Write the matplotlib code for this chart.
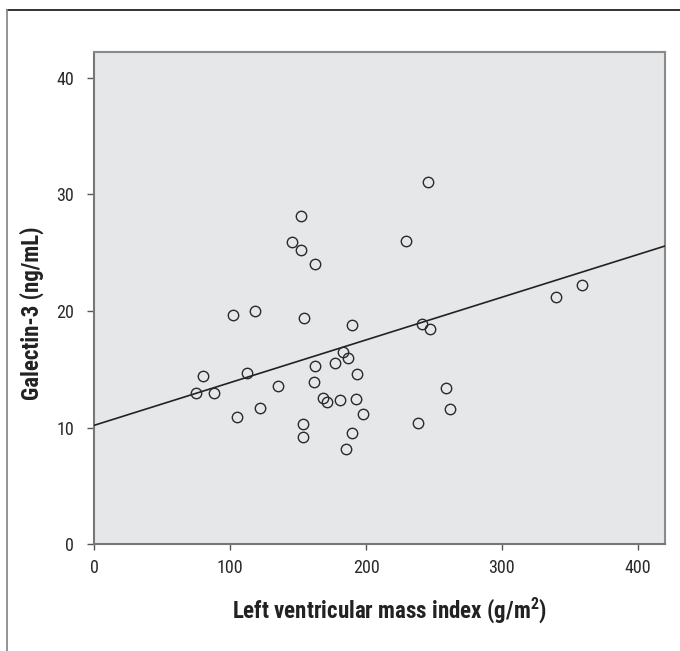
import matplotlib
matplotlib.use('Agg')
import matplotlib.pyplot as plt
import numpy as np
from matplotlib.lines import Line2D

plt.rcParams['font.family'] = ['Roboto Condensed', 'DejaVu Sans']

# left ventricular mass index (g/m2) vs galectin-3 (ng/mL)
lvmi = [74.8, 80.2, 88.2, 102.5, 118.4, 104.9, 112.3, 121.8, 135.1, 145.6,
        152.2, 152.2, 162.5, 154.4, 154.0, 153.7, 162.5, 162.0, 168.7, 171.6,
        189.7, 183.1, 187.1, 177.0, 193.2, 181.2, 192.6, 197.8, 189.7, 185.1,
        245.6, 229.7, 339.5, 358.6, 241.2, 246.8, 258.6, 262.1, 238.0]
galectin = [12.93, 14.47, 12.93, 19.66, 19.97, 10.88, 14.67, 11.71, 13.53, 25.95,
            28.17, 25.24, 24.04, 19.37, 10.28, 9.17, 15.32, 13.93, 12.50, 12.22,
            18.77, 16.50, 15.98, 15.50, 14.56, 12.36, 12.42, 11.14, 9.51, 8.17,
            31.08, 26.03, 21.16, 22.25, 18.89, 18.49, 13.42, 11.62, 10.37]

# fitted line as drawn
fit_intercept = 10.2
fit_slope = 0.0366

x_ticks = [0, 100, 200, 300, 400]
y_ticks = [0, 10, 20, 30, 40]

fig = plt.figure(figsize=(6.8, 6.51), dpi=100)

# outer frame (only top and left edges show)
fig.add_artist(Line2D([6.5 / 680, 1], [1 - 10 / 651, 1 - 10 / 651], color='#222222', lw=1.3))
fig.add_artist(Line2D([6.5 / 680, 6.5 / 680], [0, 1 - 10 / 651], color='#8a8a8a', lw=1.3))

ax = fig.add_axes([0.1385, 0.1639, 0.8395, 0.7562])
ax.set_facecolor('#e6e7e9')

xs = np.array([0, 420])
ax.plot(xs, fit_intercept + fit_slope * xs, color='#222222', lw=1.2, zorder=3)
ax.plot(lvmi, galectin, 'o', ms=7.5, mfc='none', mec='#2a2a2a', mew=1.0, zorder=4)

ax.set_xlim(0, 420)
ax.set_ylim(0, 42.2)
ax.set_xticks(x_ticks)
ax.set_yticks(y_ticks)
ax.tick_params(direction='out', width=1, color='#555555', labelsize=13,
               labelcolor='#2a2a2a')
ax.tick_params(axis='x', length=4.5, pad=6)
ax.tick_params(axis='y', length=5, pad=9.5)

for s in ax.spines.values():
    s.set_color('#8a8a8a')
    s.set_linewidth(1.5)
ax.spines['left'].set_color('#777777')
ax.spines['bottom'].set_color('#777777')

ax.set_xlabel(r'Left ventricular mass index (g/m$\mathregular{^2}$)', fontsize=16.5,
              fontweight='bold', color='#222222')
ax.set_ylabel('Galectin-3 (ng/mL)', fontsize=16.5, fontweight='bold', color='#222222')
ax.xaxis.set_label_coords(0.517, -0.104)
ax.yaxis.set_label_coords(-0.088, 0.47)

fig.savefig('out.png', dpi=100)
